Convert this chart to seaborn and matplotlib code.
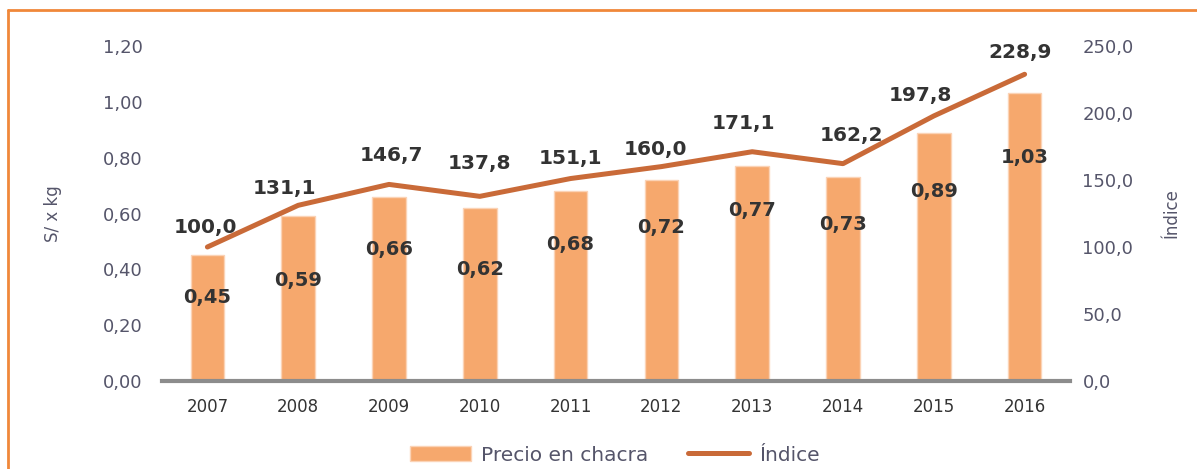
import matplotlib
matplotlib.use("Agg")
import matplotlib.pyplot as plt
import numpy as np
import pandas as pd
import seaborn as sns
from matplotlib.lines import Line2D
from matplotlib.patches import Patch

years = ["2007", "2008", "2009", "2010", "2011", "2012", "2013", "2014", "2015", "2016"]
precio = [0.45, 0.59, 0.66, 0.62, 0.68, 0.72, 0.77, 0.73, 0.89, 1.03]
indice = [100.0, 131.1, 146.7, 137.8, 151.1, 160.0, 171.1, 162.2, 197.8, 228.9]

# label placement (styling only)
bar_label_drop = [0.15, 0.23, 0.19, 0.22, 0.19, 0.17, 0.16, 0.17, 0.21, 0.23]
line_label_dx = [-2, -14, 2, 0, 0, -6, -9, 8, -13, -5]
line_label_dy = [20, 17, 29, 33, 20, 17, 28, 28, 20, 22]

bar_color = "#F6A86D"
line_color = "#C96A38"
text_dark = "#333333"
tick_color = "#55556a"

df = pd.DataFrame({"year": years, "precio": precio, "indice": indice})
df["pos"] = np.arange(len(years))

sns.set_style("white")
plt.rcParams["font.family"] = ["DejaVu Sans"]

fig = plt.figure(figsize=(11.97, 4.69), dpi=100)
ax = fig.add_axes([162 / 1197, 1 - 381 / 469, 908 / 1197, 335 / 469])

sns.barplot(data=df, x="year", y="precio", color=bar_color, width=0.37,
            edgecolor="#FBD3B6", linewidth=1, saturation=1, ax=ax, zorder=2)
ax.set_ylim(0, 1.2)
ax.set_xlim(-0.5, 9.5)
ax.set_yticks(np.arange(0, 1.21, 0.2))
ax.set_yticklabels([f"{v:.2f}".replace(".", ",") for v in np.arange(0, 1.21, 0.2)])
ax.set_xlabel("")
ax.set_ylabel("S/ x kg", fontsize=12, color=tick_color, labelpad=29)
ax.tick_params(axis="y", length=0, labelsize=13, labelcolor=tick_color, pad=14)
ax.tick_params(axis="x", length=0, labelsize=12, labelcolor=text_dark, pad=12)
for s in ["top", "right", "left"]:
    ax.spines[s].set_visible(False)
ax.spines["bottom"].set_color("#8c8c8c")
ax.spines["bottom"].set_linewidth(3)

for i, v in enumerate(precio):
    ax.text(i, v - bar_label_drop[i], f"{v:.2f}".replace(".", ","),
            ha="center", va="center", fontsize=14, fontweight="bold",
            color=text_dark, zorder=5)

ax2 = ax.twinx()
sns.lineplot(data=df, x="pos", y="indice", color=line_color, linewidth=3.6,
             ax=ax2, zorder=3)
ax2.set_ylim(0, 250)
ax2.set_yticks(np.arange(0, 251, 50))
ax2.set_yticklabels([f"{v:.1f}".replace(".", ",") for v in np.arange(0, 251, 50)])
ax2.set_ylabel("Índice", fontsize=12, color=tick_color, rotation=90, labelpad=21)
ax2.tick_params(axis="y", length=0, labelsize=13, labelcolor=tick_color, pad=9)
for s in ["top", "right", "left", "bottom"]:
    ax2.spines[s].set_visible(False)

for i, v in enumerate(indice):
    ax2.annotate(f"{v:.1f}".replace(".", ","), (i, v),
                 xytext=(line_label_dx[i], line_label_dy[i]),
                 textcoords="offset pixels", ha="center", va="center",
                 fontsize=14.5, fontweight="bold", color=text_dark,
                 annotation_clip=False, zorder=6)

handles = [Patch(facecolor=bar_color, edgecolor="#FBD3B6"),
           Line2D([0], [0], color=line_color, linewidth=3.6)]
fig.legend(handles, ["Precio en chacra", "Índice"], loc="center",
           bbox_to_anchor=(615 / 1197, 1 - 455 / 469), ncol=2, frameon=False,
           fontsize=14.5, handlelength=3.0, handletextpad=0.5, columnspacing=2.0,
           labelcolor=tick_color)

# orange frame (left and top)
frame_kw = dict(color="#F0883A", linewidth=2, transform=fig.transFigure)
fig.add_artist(Line2D([8 / 1197, 8 / 1197], [0, 1 - 10 / 469], **frame_kw))
fig.add_artist(Line2D([8 / 1197, 1], [1 - 10 / 469, 1 - 10 / 469], **frame_kw))

fig.savefig("out.png", dpi=100)
